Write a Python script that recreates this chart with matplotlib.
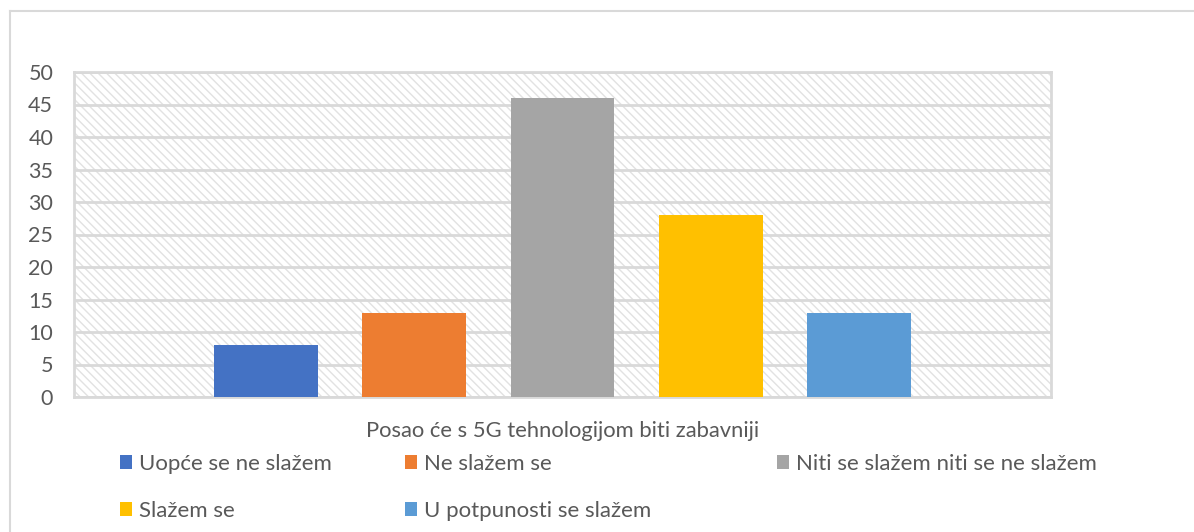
import matplotlib.pyplot as plt
from matplotlib.patches import Rectangle
from matplotlib.lines import Line2D
import numpy as np

plt.rcParams['font.family'] = ['Lato', 'DejaVu Sans']
plt.rcParams['hatch.linewidth'] = 1.0

# data
series = ['Uopće se ne slažem', 'Ne slažem se', 'Niti se slažem niti se ne slažem',
          'Slažem se', 'U potpunosti se slažem']
values = [8, 13, 46, 28, 13]
colors = ['#4472c4', '#ed7d31', '#a5a5a5', '#ffc000', '#5b9bd5']
category = 'Posao će s 5G tehnologijom biti zabavniji'
yticks = [0, 5, 10, 15, 20, 25, 30, 35, 40, 45, 50]

text_col = '#595959'
grid_col = '#d9d9d9'
W, H = 1194, 532

fig = plt.figure(figsize=(W / 100, H / 100), dpi=100)
ax = fig.add_axes([74 / W, 1 - 397 / H, (1051 - 74) / W, (397 - 72) / H])

# hatched plot area background
ax.patch.set_visible(False)
bg = Rectangle((0, 0), 1, 1, transform=ax.transAxes, facecolor='white',
               edgecolor='#e2e2e2', hatch='\\\\\\\\', linewidth=0, zorder=0)
ax.add_patch(bg)

n = len(values)
x = np.arange(n) - (n - 1) / 2
bars = ax.bar(x, values, width=0.7, color=colors, zorder=3)
ax.set_xlim(-3.29, 3.29)
ax.set_ylim(0, 50)
ax.set_yticks(yticks)
ax.set_xticks([])
ax.yaxis.grid(True, color=grid_col, linewidth=2, zorder=1)
ax.set_axisbelow(True)
for s in ax.spines.values():
    s.set_color(grid_col)
    s.set_linewidth(2)
ax.tick_params(axis='y', length=0, pad=15, labelsize=15.5, labelcolor=text_col)
ax.set_xlabel(category, fontsize=15.8, color=text_col, labelpad=17)

# legend: three columns placed like the original (Excel spacing is uneven)
columns = [[0, 3], [1, 4], [2]]
col_x = [120, 405, 777]
for idx, cx in zip(columns, col_x):
    lg = fig.legend([bars[i] for i in idx], [series[i] for i in idx],
                    loc='upper left', bbox_to_anchor=(cx / W, 1 - 454 / H),
                    frameon=False, fontsize=16, labelcolor=text_col,
                    handlelength=0.55, handleheight=0.55, handletextpad=0.3,
                    labelspacing=1.2, borderaxespad=0, borderpad=0)

# outer chart frame (left and top)
fig.add_artist(Line2D([10 / W, 10 / W], [0, 1 - 11 / H], color=grid_col, linewidth=1.5))
fig.add_artist(Line2D([10 / W, 1], [1 - 11 / H, 1 - 11 / H], color=grid_col, linewidth=1.5))

fig.savefig('out.png', dpi=100)
